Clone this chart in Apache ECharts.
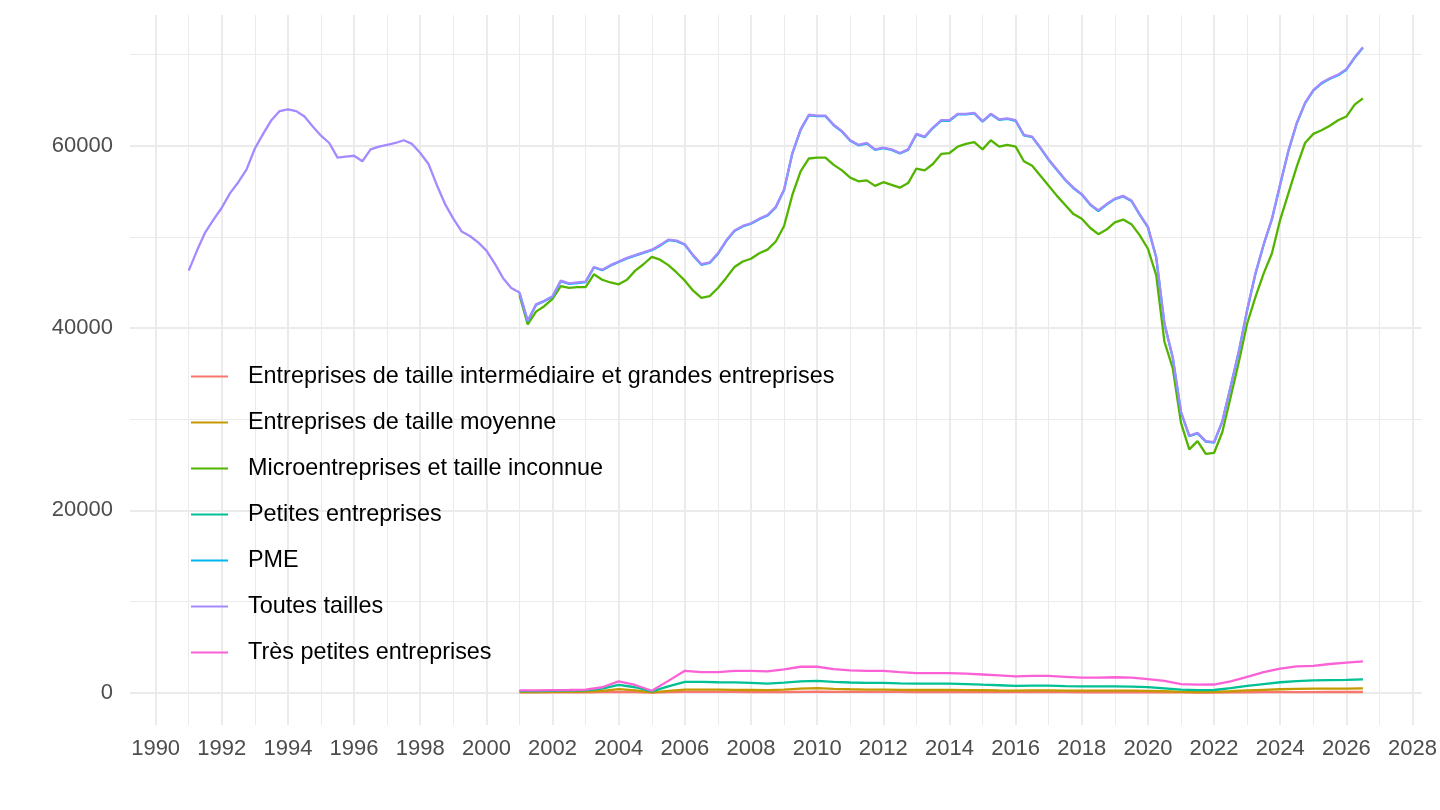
<!DOCTYPE html>
<html lang="fr">
  <head>
    <meta charset="UTF-8" />
    <title>Entreprises par taille</title>
    <style>
      html, body { margin: 0; padding: 0; background: #ffffff; }
      #chart { width: 1440px; height: 810px; }
    </style>
  </head>
  <body>
    <div id="chart"></div>

    <script src="https://cdn.jsdelivr.net/npm/echarts@6.0.0/dist/echarts.min.js"></script>
    <script>
      // Séries trimestrielles (1991 T1 -> 2026 T3) et semestrielles (2001 -> 2026)
      const startMain = 1991;
      const startSub = 2001;

      const toutesTailles = [
        46300, 48500, 50500, 51900, 53200, 54800, 56000, 57400,
        59700, 61300, 62800, 63800, 64000, 63800, 63200, 62100,
        61100, 60300, 58700, 58800, 58900, 58300, 59600, 59900,
        60100, 60300, 60600, 60200, 59200, 58000, 55700, 53600,
        52000, 50600, 50100, 49400, 48500, 47100, 45500, 44400,
        43900, 40800, 42600, 43000, 43500, 45200, 44900, 45000,
        45100, 46700, 46400, 46900, 47300, 47700, 48000, 48300,
        48600, 49100, 49700, 49600, 49200, 48000, 47000, 47200,
        48200, 49600, 50700, 51200, 51500, 52000, 52400, 53300,
        55200, 59200, 61800, 63400, 63300, 63300, 62300, 61600,
        60600, 60100, 60300, 59600, 59800, 59600, 59200, 59600,
        61300, 61000, 62000, 62800, 62800, 63500, 63500, 63600,
        62700, 63500, 62900, 63000, 62800, 61200, 61000, 59800,
        58500, 57400, 56300, 55400, 54700, 53600, 52900, 53600,
        54200, 54500, 54000, 52500, 51100, 47800, 40500, 36800,
        30800, 28200, 28500, 27600, 27500, 29800, 33600, 37500,
        42000, 46000, 49200, 52000, 55800, 59500, 62500, 64700,
        66100, 66900, 67400, 67800, 68400, 69700, 70800
      ];

      // à partir de 2001 T1
      const micro = [
        43600, 40400, 41800, 42400, 43200, 44600, 44400, 44500,
        44500, 45900, 45300, 45000, 44800, 45300, 46300, 47000,
        47800, 47500, 46900, 46100, 45200, 44100, 43300, 43500,
        44400, 45500, 46700, 47300, 47600, 48200, 48600, 49500,
        51200, 54600, 57200, 58600, 58700, 58700, 57900, 57300,
        56500, 56100, 56200, 55600, 56000, 55700, 55400, 55900,
        57500, 57300, 58000, 59100, 59200, 59900, 60200, 60400,
        59600, 60600, 59900, 60100, 59900, 58300, 57800, 56700,
        55600, 54500, 53500, 52500, 52000, 51000, 50300, 50800,
        51600, 51900, 51400, 50200, 48700, 45800, 38500, 35600,
        29600, 26700, 27600, 26200, 26300, 28600, 32400, 36300,
        40500, 43400, 46000, 48200, 51900, 54800, 57700, 60300,
        61300, 61700, 62200, 62800, 63200, 64500, 65200
      ];

      const pme = [
        43840, 40740, 42540, 42940, 43440, 45140, 44840, 44940,
        45040, 46640, 46340, 46840, 47240, 47640, 47940, 48240,
        48540, 49040, 49640, 49540, 49140, 47940, 46940, 47140,
        48140, 49540, 50640, 51140, 51440, 51940, 52340, 53240,
        55140, 59140, 61740, 63340, 63240, 63240, 62240, 61540,
        60540, 60040, 60240, 59540, 59740, 59540, 59140, 59540,
        61240, 60940, 61940, 62740, 62740, 63440, 63440, 63540,
        62640, 63440, 62840, 62940, 62740, 61140, 60940, 59740,
        58440, 57340, 56240, 55340, 54640, 53540, 52840, 53540,
        54140, 54440, 53940, 52440, 51040, 47740, 40440, 36740,
        30740, 28140, 28440, 27540, 27440, 29740, 33540, 37440,
        41940, 45940, 49140, 51940, 55740, 59440, 62440, 64640,
        66040, 66840, 67340, 67740, 68340, 69640, 70740
      ];

      // semestriel, à partir de 2001 S1
      const tpe = [
        250, 250, 280, 300, 330, 600, 1240, 850, 220, 1300,
        2400, 2250, 2250, 2400, 2400, 2350, 2550, 2850, 2850, 2600,
        2450, 2400, 2400, 2250, 2150, 2150, 2150, 2100, 2000, 1900,
        1800, 1850, 1850, 1750, 1650, 1650, 1700, 1650, 1500, 1300,
        950, 880, 900, 1250, 1750, 2250, 2650, 2900, 2950, 3150,
        3300, 3450
      ];

      const petites = [
        180, 180, 200, 220, 250, 450, 850, 600, 150, 700,
        1200, 1180, 1150, 1140, 1080, 1000, 1100, 1250, 1300, 1200,
        1120, 1080, 1080, 1020, 990, 1000, 1000, 950, 880, 820,
        760, 780, 780, 720, 700, 700, 700, 680, 620, 480,
        330, 290, 300, 500, 750, 950, 1150, 1280, 1350, 1380,
        1400, 1460
      ];

      const moyenne = [
        80, 80, 90, 100, 110, 200, 400, 250, 50, 200,
        330, 340, 330, 320, 300, 280, 330, 450, 500, 430,
        380, 350, 340, 320, 300, 310, 300, 290, 270, 250,
        240, 250, 250, 240, 230, 230, 240, 230, 210, 160,
        100, 80, 90, 160, 250, 320, 380, 420, 440, 450,
        460, 480
      ];

      const eti = [
        30, 30, 35, 40, 40, 60, 100, 70, 20, 60,
        90, 90, 90, 85, 80, 75, 80, 100, 110, 100,
        95, 90, 90, 85, 80, 80, 80, 75, 70, 65,
        60, 60, 60, 58, 55, 55, 55, 55, 50, 40,
        30, 25, 25, 40, 55, 65, 70, 75, 75, 78,
        80, 80
      ];

      const seriesNames = [
        'Entreprises de taille intermédiaire et grandes entreprises',
        'Entreprises de taille moyenne',
        'Microentreprises et taille inconnue',
        'Petites entreprises',
        'PME',
        'Toutes tailles',
        'Très petites entreprises'
      ];
      const colors = ['#F8766D', '#C49A00', '#53B400', '#00C094', '#00B6EB', '#A58AFF', '#FB61D7'];

      const majorYears = [];
      for (let y = 1990; y <= 2028; y += 2) majorYears.push(y);
      const minorYears = [];
      for (let y = 1991; y <= 2027; y += 2) minorYears.push(y);
      const majorY = [0, 20000, 40000, 60000];
      const minorY = [10000, 30000, 50000, 70000];

      // date décimale pour chaque valeur
      function toPairs(values, start, step) {
        return values.map((v, i) => [start + i * step, v]);
      }

      const seriesValues = [
        toPairs(eti, startSub, 0.5),
        toPairs(moyenne, startSub, 0.5),
        toPairs(micro, startSub, 0.25),
        toPairs(petites, startSub, 0.5),
        toPairs(pme, startSub, 0.25),
        toPairs(toutesTailles, startMain, 0.25),
        toPairs(tpe, startSub, 0.5)
      ];

      const xMin = 1989.225, xMax = 2028.275;
      const yMin = -3540, yMax = 74340;
      const gridColor = '#EBEBEB';
      const labelFont = { color: '#4D4D4D', fontSize: 22, fontFamily: 'Liberation Sans, Arial, sans-serif' };

      const chart = echarts.init(document.getElementById('chart'));
      chart.setOption({
        animation: false,
        backgroundColor: '#ffffff',
        color: colors,
        grid: { left: 130, right: 15, top: 15, bottom: 85 },
        legend: {
          orient: 'vertical',
          left: 191,
          top: 365,
          padding: 0,
          icon: 'rect',
          itemWidth: 37,
          itemHeight: 2,
          itemGap: 23,
          data: seriesNames,
          textStyle: {
            color: '#000000',
            fontSize: 23.4,
            lineHeight: 23,
            fontFamily: 'Liberation Sans, Arial, sans-serif',
            padding: [0, 0, 0, 15]
          }
        },
        xAxis: [
          {
            type: 'value', min: xMin, max: xMax,
            axisLine: { show: false },
            axisTick: { show: false, customValues: majorYears },
            axisLabel: Object.assign({ customValues: majorYears, margin: 13, formatter: (v) => String(Math.round(v)) }, labelFont),
            splitLine: { show: true, lineStyle: { color: gridColor, width: 2 } }
          },
          {
            type: 'value', min: xMin, max: xMax,
            axisLine: { show: false },
            axisTick: { show: false, customValues: minorYears },
            axisLabel: { show: false, customValues: minorYears },
            splitLine: { show: true, lineStyle: { color: gridColor, width: 1 } }
          }
        ],
        yAxis: [
          {
            type: 'value', min: yMin, max: yMax,
            axisLine: { show: false },
            axisTick: { show: false, customValues: majorY },
            axisLabel: Object.assign({ customValues: majorY, margin: 17, formatter: (v) => String(v) }, labelFont),
            splitLine: { show: true, lineStyle: { color: gridColor, width: 2 } }
          },
          {
            type: 'value', min: yMin, max: yMax, position: 'left',
            axisLine: { show: false },
            axisTick: { show: false, customValues: minorY },
            axisLabel: { show: false, customValues: minorY },
            splitLine: { show: true, lineStyle: { color: gridColor, width: 1 } }
          }
        ],
        series: seriesNames.map((name, i) => ({
          name: name,
          type: 'line',
          xAxisIndex: 0,
          yAxisIndex: 0,
          showSymbol: false,
          symbol: 'none',
          data: seriesValues[i],
          lineStyle: { width: 2.3, color: colors[i] },
          itemStyle: { color: colors[i] },
          emphasis: { disabled: true }
        }))
      });
    </script>
  </body>
</html>
